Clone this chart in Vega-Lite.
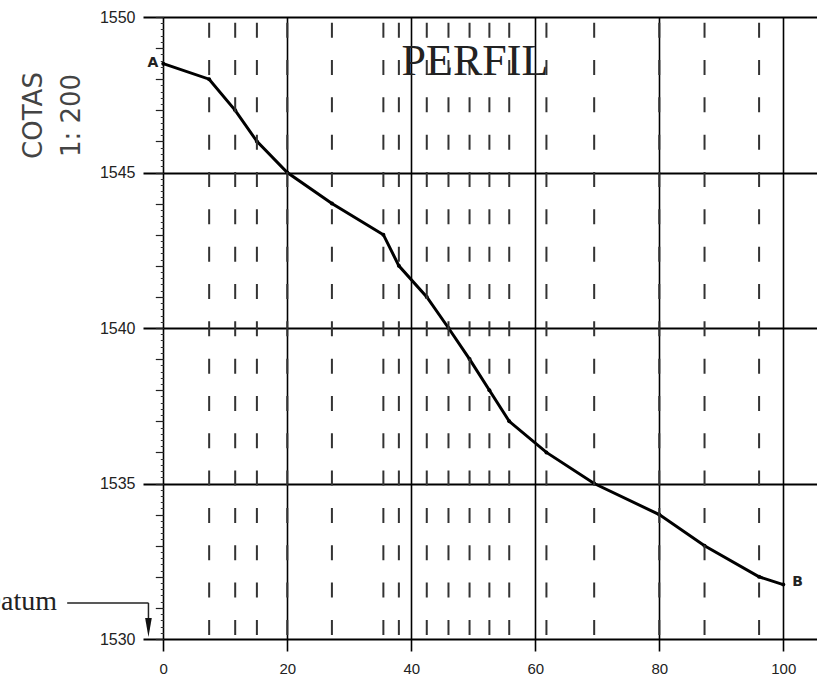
{
  "$schema": "https://vega.github.io/schema/vega-lite/v6.json",
  "autosize": "none",
  "width": 674,
  "height": 622,
  "padding": {"left": 143, "top": 17, "right": 0, "bottom": 39},
  "background": "white",
  "config": {"view": {"stroke": null}},
  "data": {"values": [
    {"dist": 0, "elev": 1548.5, "label": "A"},
    {"dist": 7.4, "elev": 1548, "label": ""},
    {"dist": 11.6, "elev": 1547, "label": ""},
    {"dist": 15.1, "elev": 1546, "label": ""},
    {"dist": 20, "elev": 1545, "label": ""},
    {"dist": 27.2, "elev": 1544, "label": ""},
    {"dist": 35.5, "elev": 1543, "label": ""},
    {"dist": 38.0, "elev": 1542, "label": ""},
    {"dist": 42.5, "elev": 1541, "label": ""},
    {"dist": 46.0, "elev": 1540, "label": ""},
    {"dist": 49.4, "elev": 1539, "label": ""},
    {"dist": 52.6, "elev": 1538, "label": ""},
    {"dist": 55.8, "elev": 1537, "label": ""},
    {"dist": 61.8, "elev": 1536, "label": ""},
    {"dist": 69.5, "elev": 1535, "label": ""},
    {"dist": 80, "elev": 1534, "label": ""},
    {"dist": 87.3, "elev": 1533, "label": ""},
    {"dist": 96.1, "elev": 1532, "label": ""},
    {"dist": 100, "elev": 1531.75, "label": "B"}
  ]},
  "resolve": {"axis": {"x": "independent", "y": "independent"}},
  "layer": [
    {
      "mark": {"type": "line", "color": "black", "strokeWidth": 3},
      "encoding": {
        "x": {"field": "dist", "type": "quantitative",
              "scale": {"domain": [-3.27, 105.44], "nice": false, "zero": false},
              "axis": {"orient": "bottom", "values": [0, 20, 40, 60, 80, 100], "format": "d", "title": null, "grid": true, "gridColor": "black", "gridWidth": 1.6, "gridOpacity": 1,
                       "domain": false, "tickSize": 12, "tickColor": "black", "tickWidth": 1.6,
                       "labelPadding": 10, "labelFontSize": 15, "labelFont": "Liberation Sans", "labelColor": "#222"}},
        "y": {"field": "elev", "type": "quantitative",
              "scale": {"domain": [1530, 1550], "nice": false, "zero": false},
              "axis": {"orient": "left", "values": [1530, 1535, 1540, 1545, 1550], "format": "d", "grid": true, "gridColor": "black", "gridWidth": 2, "gridOpacity": 1,
                       "domain": false, "ticks": false, "labelPadding": 8, "labelFontSize": 16, "labelFont": "Liberation Sans", "labelColor": "#222",
                       "title": ["COTAS", "1: 200"], "titleFont": "DejaVu Sans", "titleFontSize": 26, "titleFontWeight": "normal", "titleColor": "#444",
                       "titleAngle": 270, "titleAlign": "center", "titleBaseline": "middle", "titleLineHeight": 38, "titleX": -110, "titleY": 98}}
      }
    },
    {
      "mark": {"type": "point", "filled": true, "color": "black", "size": 16, "opacity": 1},
      "encoding": {
        "x": {"field": "dist", "type": "quantitative", "axis": null},
        "y": {"field": "elev", "type": "quantitative",
              "axis": {"orient": "left", "offset": -20.3, "tickCount": 100, "labels": false, "domain": false, "grid": false, "title": null,
                       "tickSize": 3, "tickColor": "#333", "tickWidth": 1}}
      }
    },
    {
      "transform": [{"filter": "datum.label == 'A'"}],
      "mark": {"type": "text", "font": "DejaVu Sans", "fontSize": 14, "fontWeight": "bold", "color": "#222", "align": "right", "baseline": "middle", "dx": -5, "dy": -1},
      "encoding": {
        "x": {"field": "dist", "type": "quantitative", "axis": null},
        "y": {"field": "elev", "type": "quantitative",
              "axis": {"orient": "left", "offset": -20.3, "tickCount": 20, "labels": false, "domain": false, "grid": false, "title": null,
                       "tickSize": 8, "tickColor": "#222", "tickWidth": 1.2}},
        "text": {"field": "label"}
      }
    },
    {
      "transform": [{"filter": "datum.label == 'B'"}],
      "mark": {"type": "text", "font": "DejaVu Sans", "fontSize": 14, "fontWeight": "bold", "color": "#222", "align": "left", "baseline": "middle", "dx": 9, "dy": -3},
      "encoding": {
        "x": {"field": "dist", "type": "quantitative", "axis": null},
        "y": {"field": "elev", "type": "quantitative", "axis": null},
        "text": {"field": "label"}
      }
    },
    {
      "transform": [{"filter": "datum.label == ''"}],
      "mark": {"type": "rule", "color": "#333", "strokeWidth": 2, "strokeDash": [15, 22.33], "strokeDashOffset": 31.67},
      "encoding": {
        "x": {"field": "dist", "type": "quantitative", "axis": null},
        "y": {"datum": 1550, "type": "quantitative", "axis": null},
        "y2": {"datum": 1530}
      }
    },
    {
      "data": {"values": [{}]},
      "mark": {"type": "text", "text": "PERFIL", "font": "Liberation Serif", "fontSize": 44, "color": "#222", "align": "center", "baseline": "alphabetic"},
      "encoding": {
        "x": {"datum": 50.27, "type": "quantitative", "axis": null},
        "y": {"datum": 1548.135, "type": "quantitative", "axis": null}
      }
    },
    {
      "data": {"values": [{}]},
      "mark": {"type": "text", "text": "Datum", "font": "Liberation Serif", "fontSize": 28, "color": "#222", "align": "right", "baseline": "alphabetic"},
      "encoding": {
        "x": {"datum": -17.14, "type": "quantitative", "axis": null},
        "y": {"datum": 1530.93, "type": "quantitative", "axis": null}
      }
    },
    {
      "data": {"values": [{}]},
      "mark": {"type": "rule", "color": "#222", "strokeWidth": 1.5},
      "encoding": {
        "x": {"datum": -15.5, "type": "quantitative", "axis": null},
        "x2": {"datum": -2.39},
        "y": {"datum": 1531.16, "type": "quantitative", "axis": null}
      }
    },
    {
      "data": {"values": [{}]},
      "mark": {"type": "rule", "color": "#222", "strokeWidth": 1.5},
      "encoding": {
        "x": {"datum": -2.39, "type": "quantitative", "axis": null},
        "y": {"datum": 1531.16, "type": "quantitative", "axis": null},
        "y2": {"datum": 1530.3}
      }
    },
    {
      "data": {"values": [{}]},
      "mark": {"type": "point", "shape": "M-0.35,-1L0.35,-1L0,1Z", "filled": true, "color": "#111", "size": 361, "opacity": 1},
      "encoding": {
        "x": {"datum": -2.39, "type": "quantitative", "axis": null},
        "y": {"datum": 1530.37, "type": "quantitative", "axis": null}
      }
    }
  ]
}
